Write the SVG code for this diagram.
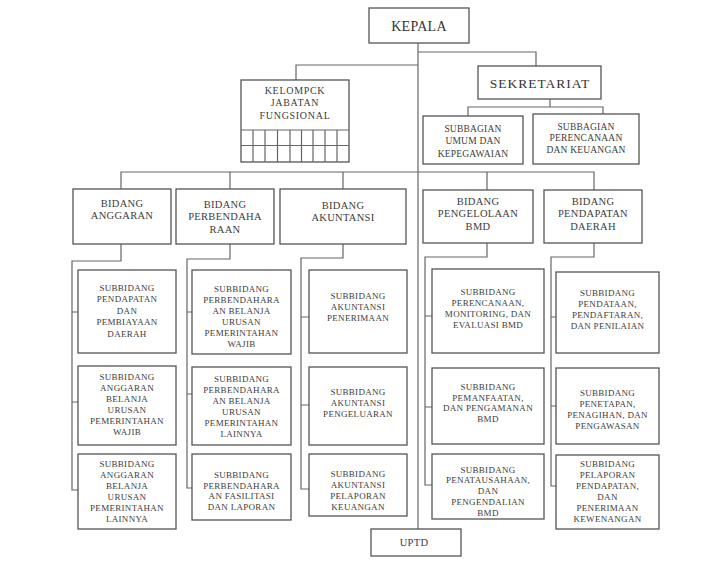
<svg xmlns="http://www.w3.org/2000/svg" width="707" height="563" viewBox="0 0 707 563">
<style>
.bg{fill:#ffffff}
.box{fill:#ffffff;stroke:#555555;stroke-width:1.3}
.ln{fill:none;stroke:#666666;stroke-width:1.2}
.t{font-family:"Liberation Serif","Times New Roman",serif;font-size:9px;letter-spacing:0.3px;fill:#3c3c3c;text-anchor:middle}
.tg{font-family:"Liberation Serif","Times New Roman",serif;font-size:9.5px;letter-spacing:0.2px;fill:#3c3c3c;text-anchor:middle}
.tk{font-family:"Liberation Serif","Times New Roman",serif;font-size:10px;letter-spacing:0.7px;fill:#3c3c3c;text-anchor:middle}
.tb{font-family:"Liberation Serif","Times New Roman",serif;font-size:10.5px;letter-spacing:0.3px;fill:#3c3c3c;text-anchor:middle}
.th{font-family:"Liberation Serif","Times New Roman",serif;font-size:14px;letter-spacing:0.3px;fill:#333333;text-anchor:middle}
.ts{font-family:"Liberation Serif","Times New Roman",serif;font-size:13.5px;letter-spacing:1px;fill:#333333;text-anchor:middle}
</style>
<rect class="bg" x="0" y="0" width="707" height="563"/>
<g id="connectors">
<path class="ln" d="M418,43 V529"/>
<path class="ln" d="M418,52 H536 V66"/>
<path class="ln" d="M418,65 H296 V80"/>
<path class="ln" d="M550,99 V107 M468,116 V107 H603 V114"/>
<path class="ln" d="M121,189 V172 H594 V190 M230,172 V189 M343,172 V189 M487,172 V190"/>
<path class="ln" d="M121,244 V261 H72 V490 H78 M72,312 H78 M72,402 H78"/>
<path class="ln" d="M230,244 V259 H187 V488 H192 M187,312 H192 M187,394 H192"/>
<path class="ln" d="M343,244 V258 H301 V489 H309 M301,317 H309 M301,405 H309"/>
<path class="ln" d="M487,243 V257 H425 V485 H432 M425,316 H432 M425,407 H432"/>
<path class="ln" d="M594,243 V257 H551 V486 H556 M551,317 H556 M551,406 H556"/>
</g>
<g id="kepala"><rect class="box" x="369" y="8" width="100" height="35"/><text class="th" x="419" y="30.5">KEPALA</text></g>
<g id="kelompok">
<rect class="box" x="241" y="80" width="108" height="82"/>
<path class="ln" d="M241,130 H349 M241,145.5 H349 M253,130 V162 M265,130 V162 M277.5,130 V162 M290,130 V162 M301.5,130 V162 M313,130 V162 M325,130 V162 M337,130 V162"/>
<text class="tk"><tspan x="295" y="93.5">KELOMPCK</tspan><tspan x="295" y="106">JABATAN</tspan><tspan x="295" y="118.5">FUNGSIONAL</tspan></text>
</g>
<g id="sekretariat"><rect class="box" x="478" y="66" width="123" height="33"/><text class="ts" x="540" y="87.5">SEKRETARIAT</text></g>
<g id="subbag-umum"><rect class="box" x="423" y="116" width="100" height="48"/><text class="tg"><tspan x="473" y="132">SUBBAGIAN</tspan><tspan x="473" y="144">UMUM DAN</tspan><tspan x="473" y="156.5">KEPEGAWAIAN</tspan></text></g>
<g id="subbag-perencanaan"><rect class="box" x="533" y="114" width="106" height="50"/><text class="tg"><tspan x="586" y="129.5">SUBBAGIAN</tspan><tspan x="586" y="141">PERENCANAAN</tspan><tspan x="586" y="153">DAN KEUANGAN</tspan></text></g>

<g id="bidang-anggaran"><rect class="box" x="73" y="189" width="98" height="55"/><text class="tb"><tspan x="122" y="206.5">BIDANG</tspan><tspan x="122" y="218.5">ANGGARAN</tspan></text></g>
<g id="bidang-perbendaharaan"><rect class="box" x="176" y="189" width="98" height="55"/><text class="tb"><tspan x="225" y="207.5">BIDANG</tspan><tspan x="225" y="220">PERBENDAHA</tspan><tspan x="225" y="232.5">RAAN</tspan></text></g>
<g id="bidang-akuntansi"><rect class="box" x="280" y="189" width="126" height="55"/><text class="tb"><tspan x="343" y="208.5">BIDANG</tspan><tspan x="343" y="220.5">AKUNTANSI</tspan></text></g>
<g id="bidang-bmd"><rect class="box" x="423" y="190" width="110" height="53"/><text class="tb"><tspan x="478" y="204.5">BIDANG</tspan><tspan x="478" y="217">PENGELOLAAN</tspan><tspan x="478" y="230">BMD</tspan></text></g>
<g id="bidang-pendapatan"><rect class="box" x="544" y="190" width="98" height="53"/><text class="tb"><tspan x="593" y="204.5">BIDANG</tspan><tspan x="593" y="217">PENDAPATAN</tspan><tspan x="593" y="229.5">DAERAH</tspan></text></g>

<g id="sub-a1"><rect class="box" x="78" y="270" width="98" height="83"/><text class="t"><tspan x="127" y="290.5">SUBBIDANG</tspan><tspan x="127" y="302">PENDAPATAN</tspan><tspan x="127" y="313.5">DAN</tspan><tspan x="127" y="325">PEMBIAYAAN</tspan><tspan x="127" y="336.5">DAERAH</tspan></text></g>
<g id="sub-a2"><rect class="box" x="78" y="366" width="98" height="79"/><text class="t"><tspan x="127" y="380">SUBBIDANG</tspan><tspan x="127" y="391">ANGGARAN</tspan><tspan x="127" y="402">BELANJA</tspan><tspan x="127" y="413">URUSAN</tspan><tspan x="127" y="424">PEMERINTAHAN</tspan><tspan x="127" y="435">WAJIB</tspan></text></g>
<g id="sub-a3"><rect class="box" x="78" y="454" width="98" height="75"/><text class="t"><tspan x="127" y="466.5">SUBBIDANG</tspan><tspan x="127" y="477.5">ANGGARAN</tspan><tspan x="127" y="488.5">BELANJA</tspan><tspan x="127" y="499.5">URUSAN</tspan><tspan x="127" y="510.5">PEMERINTAHAN</tspan><tspan x="127" y="521.5">LAINNYA</tspan></text></g>

<g id="sub-p1"><rect class="box" x="192" y="270" width="99" height="84"/><text class="t"><tspan x="241.5" y="291.5">SUBBIDANG</tspan><tspan x="241.5" y="302.5">PERBENDAHARA</tspan><tspan x="241.5" y="313.5">AN BELANJA</tspan><tspan x="241.5" y="324.5">URUSAN</tspan><tspan x="241.5" y="335.5">PEMERINTAHAN</tspan><tspan x="241.5" y="346.5">WAJIB</tspan></text></g>
<g id="sub-p2"><rect class="box" x="192" y="367" width="99" height="78"/><text class="t"><tspan x="241.5" y="381.5">SUBBIDANG</tspan><tspan x="241.5" y="392.5">PERBENDAHARA</tspan><tspan x="241.5" y="403.5">AN BELANJA</tspan><tspan x="241.5" y="414.5">URUSAN</tspan><tspan x="241.5" y="425.5">PEMERINTAHAN</tspan><tspan x="241.5" y="436.5">LAINNYA</tspan></text></g>
<g id="sub-p3"><rect class="box" x="192" y="454" width="99" height="66"/><text class="t"><tspan x="241.5" y="478">SUBBIDANG</tspan><tspan x="241.5" y="488.5">PERBENDAHARA</tspan><tspan x="241.5" y="499">AN FASILITASI</tspan><tspan x="241.5" y="509.5">DAN LAPORAN</tspan></text></g>

<g id="sub-k1"><rect class="box" x="309" y="270" width="98" height="83"/><text class="t"><tspan x="358" y="298.5">SUBBIDANG</tspan><tspan x="358" y="309.5">AKUNTANSI</tspan><tspan x="358" y="321">PENERIMAAN</tspan></text></g>
<g id="sub-k2"><rect class="box" x="309" y="367" width="98" height="78"/><text class="t"><tspan x="358" y="395">SUBBIDANG</tspan><tspan x="358" y="406">AKUNTANSI</tspan><tspan x="358" y="417">PENGELUARAN</tspan></text></g>
<g id="sub-k3"><rect class="box" x="309" y="454" width="98" height="62"/><text class="t"><tspan x="358" y="476.5">SUBBIDANG</tspan><tspan x="358" y="487.5">AKUNTANSI</tspan><tspan x="358" y="498.5">PELAPORAN</tspan><tspan x="358" y="509.5">KEUANGAN</tspan></text></g>

<g id="sub-b1"><rect class="box" x="432" y="269" width="112" height="84"/><text class="t"><tspan x="488" y="295">SUBBIDANG</tspan><tspan x="488" y="306">PERENCANAAN,</tspan><tspan x="488" y="317">MONITORING, DAN</tspan><tspan x="488" y="328">EVALUASI BMD</tspan></text></g>
<g id="sub-b2"><rect class="box" x="432" y="368" width="112" height="76"/><text class="t"><tspan x="488" y="389.5">SUBBIDANG</tspan><tspan x="488" y="400.5">PEMANFAATAN,</tspan><tspan x="488" y="411">DAN PENGAMANAN</tspan><tspan x="488" y="421.5">BMD</tspan></text></g>
<g id="sub-b3"><rect class="box" x="432" y="454" width="112" height="65"/><text class="t"><tspan x="488" y="472.5">SUBBIDANG</tspan><tspan x="488" y="483">PENATAUSAHAAN,</tspan><tspan x="488" y="493.5">DAN</tspan><tspan x="488" y="504.5">PENGENDALIAN</tspan><tspan x="488" y="515.5">BMD</tspan></text></g>

<g id="sub-d1"><rect class="box" x="556" y="272" width="103" height="81"/><text class="t"><tspan x="607.5" y="296">SUBBIDANG</tspan><tspan x="607.5" y="307">PENDATAAN,</tspan><tspan x="607.5" y="318">PENDAFTARAN,</tspan><tspan x="607.5" y="329">DAN PENILAIAN</tspan></text></g>
<g id="sub-d2"><rect class="box" x="556" y="368" width="103" height="76"/><text class="t"><tspan x="607.5" y="396">SUBBIDANG</tspan><tspan x="607.5" y="407">PENETAPAN,</tspan><tspan x="607.5" y="418">PENAGIHAN, DAN</tspan><tspan x="607.5" y="429">PENGAWASAN</tspan></text></g>
<g id="sub-d3"><rect class="box" x="556" y="455" width="103" height="74"/><text class="t"><tspan x="607.5" y="467">SUBBIDANG</tspan><tspan x="607.5" y="478">PELAPORAN</tspan><tspan x="607.5" y="489">PENDAPATAN,</tspan><tspan x="607.5" y="500">DAN</tspan><tspan x="607.5" y="511">PENERIMAAN</tspan><tspan x="607.5" y="522">KEWENANGAN</tspan></text></g>

<g id="uptd"><rect class="box" x="371" y="529" width="90" height="27"/><text class="tb" x="414" y="546">UPTD</text></g>
</svg>
